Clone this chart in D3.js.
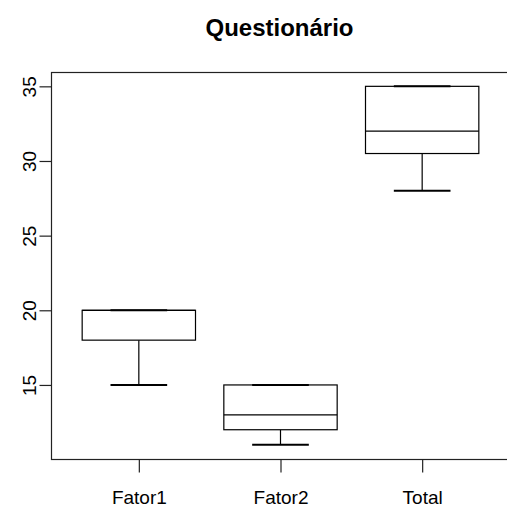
<!DOCTYPE html>
<html>
<head>
<meta charset="utf-8">
<script src="https://cdn.jsdelivr.net/npm/d3@7"></script>
<style>
  html, body { margin: 0; padding: 0; background: #fff; }
  svg { display: block; }
  text { font-family: "Liberation Sans", Arial, sans-serif; fill: #000; }
</style>
</head>
<body>
<svg id="chart" width="507" height="508"></svg>
<script>
const categories = ["Fator1", "Fator2", "Total"];
const whiskerLow  = [15, 11, 28];
const q1          = [18, 12, 30.5];
const median      = [20, 13, 32];
const q3          = [20, 15, 35];
const whiskerHigh = [20, 15, 35];
const yTicks = [15, 20, 25, 30, 35];
const title = "Questionário";

const svg = d3.select("#chart");
const pLeft = 51, pRight = 510, pTop = 72, pBottom = 459;

const x = d3.scaleLinear().domain([0.38, 3.62]).range([pLeft, pRight]);
const y = d3.scaleLinear().domain([10.04, 35.96]).range([pBottom, pTop]);

const stroke = "#000";

// frame
svg.append("rect")
  .attr("x", pLeft + 0.5).attr("y", pTop + 0.5)
  .attr("width", pRight - pLeft).attr("height", pBottom - pTop)
  .attr("fill", "none").attr("stroke", "#222").attr("stroke-width", 1.2);

// y axis
const yAxis = d3.axisLeft(y).tickValues(yTicks).tickSize(12).tickFormat(d3.format("d"));
const gy = svg.append("g").attr("transform", `translate(${pLeft + 0.5},0)`).call(yAxis);
gy.select(".domain").remove();
gy.selectAll(".tick line").attr("stroke", "#222").attr("stroke-width", 1.2);
gy.selectAll(".tick text").remove();
gy.selectAll(".tick").append("text")
  .attr("transform", "translate(-16,0) rotate(-90)")
  .attr("text-anchor", "middle")
  .attr("dy", 0)
  .style("font-size", "19px")
  .style("fill", "#000")
  .text(d => d);

// x axis
const xAxis = d3.axisBottom(x).tickValues([1, 2, 3]).tickSize(13).tickFormat((d, i) => categories[i]);
const gx = svg.append("g").attr("transform", `translate(0,${pBottom + 0.5})`).call(xAxis);
gx.select(".domain").remove();
gx.selectAll(".tick line").attr("stroke", "#222").attr("stroke-width", 1.2);
gx.selectAll(".tick text")
  .attr("y", 44.5).attr("dy", 0)
  .style("font-size", "19px")
  .style("font-family", "Liberation Sans, Arial, sans-serif")
  .style("fill", "#000");

// boxes
const data = categories.map((c, i) => ({
  i: i + 1, lo: whiskerLow[i], q1: q1[i], med: median[i], q3: q3[i], hi: whiskerHigh[i]
}));
const boxHalf = 0.4, stapleHalf = 0.2;
const g = svg.append("g").attr("fill", "none").attr("stroke", stroke).attr("stroke-width", 1.2);
data.forEach(d => {
  g.append("line").attr("x1", x(d.i)).attr("x2", x(d.i)).attr("y1", y(d.lo)).attr("y2", y(d.q1));
  g.append("line").attr("x1", x(d.i)).attr("x2", x(d.i)).attr("y1", y(d.hi)).attr("y2", y(d.q3));
  g.append("line").attr("x1", x(d.i - stapleHalf)).attr("x2", x(d.i + stapleHalf)).attr("y1", y(d.lo)).attr("y2", y(d.lo)).attr("stroke-width", 2);
  g.append("rect").attr("x", x(d.i - boxHalf)).attr("y", y(d.q3))
    .attr("width", x(d.i + boxHalf) - x(d.i - boxHalf)).attr("height", y(d.q1) - y(d.q3))
    .attr("fill", "#fff");
  g.append("line").attr("x1", x(d.i - boxHalf)).attr("x2", x(d.i + boxHalf)).attr("y1", y(d.med)).attr("y2", y(d.med));
});
data.forEach(d => {
  g.append("line").attr("x1", x(d.i - stapleHalf)).attr("x2", x(d.i + stapleHalf)).attr("y1", y(d.hi)).attr("y2", y(d.hi)).attr("stroke-width", 2);
});

// title
svg.append("text")
  .attr("x", (pLeft + pRight) / 2 - 1).attr("y", 36)
  .attr("text-anchor", "middle")
  .style("font-size", "24px").style("font-weight", "bold")
  .text(title);
</script>
</body>
</html>
